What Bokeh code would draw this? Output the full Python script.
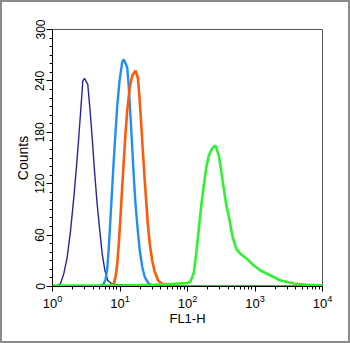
from bokeh.plotting import figure
from bokeh.layouts import column
from bokeh.models import Range1d, FixedTicker
from bokeh.embed import file_html
from bokeh.resources import INLINE

# ---- data (FL1-H value, counts) ----
navy_x = [1.0, 1.15, 1.31, 1.47, 1.65, 1.85, 2.07, 2.24, 2.45, 2.66, 2.81, 2.98,
          3.33, 3.57, 3.87, 4.19, 4.59, 5.02, 5.45, 5.96, 6.59, 7.66, 9.10,
          14.3, 28.3, 56.0, 10000.0]
navy_y = [0, 1, 3, 15, 34, 65, 104, 135, 174, 213, 240, 243,
          236, 209, 174, 135, 96, 65, 38, 19, 7, 3, 2,
          2, 1, 0, 0]

blue_x = [1.0, 4.34, 5.14, 5.70, 6.10, 6.46, 6.82, 7.23, 7.66, 8.09, 8.58, 9.09,
          9.84, 10.78, 11.38, 12.78, 13.49, 14.31, 15.17, 16.01, 16.98, 18.36,
          19.64, 21.32, 23.29, 26.7, 31.7, 56.0, 10000.0]
blue_y = [0, 0, 1, 3, 8, 20, 45, 80, 115, 148, 180, 210,
          240, 262, 265, 256, 233, 198, 163, 128, 96, 65,
          42, 23, 11, 3, 1, 0, 0]

orange_x = [1.0, 6.10, 7.23, 8.09, 8.58, 9.09, 9.60, 10.17, 10.78, 11.38, 12.06,
            12.78, 13.97, 15.17, 16.98, 18.36, 19.45, 20.61, 21.76, 23.06, 24.43,
            25.82, 27.6, 30.0, 32.8, 36.8, 42.2, 50.0, 78.8, 10000.0]
orange_y = [0, 0, 1, 3, 11, 26, 50, 81, 116, 147, 178,
            205, 233, 246, 252, 244, 221, 190, 159, 128, 100,
            73, 50, 30, 17, 7, 3, 1, 0, 0]

green_x = [1.0, 10.0, 31.6, 56.0, 100.0, 110.8, 124.0, 134.5, 147.0, 159.6, 174.3,
           191.0, 207.0, 224.5, 242.7, 260.0, 291.0, 315.7, 345.0, 378.0, 419.0,
           459.0, 527.0, 610.0, 766.0, 959.0, 1206.0, 1698.0, 2387.0, 3758.0,
           5930.0, 9340.0, 10000.0]
green_y = [1, 1, 2, 3, 4, 6, 16, 38, 67, 94, 118,
           140, 153, 159, 163, 164.5, 153, 135, 114, 94, 78,
           60, 44, 38, 32, 24.5, 18.7, 12.8, 7, 3.5,
           2, 1.5, 1]

y_ticks = [0, 60, 120, 180, 240, 300]
y_minor = [v for v in range(0, 301, 10)]

FONT = "Liberation Sans"

p = figure(width=346, height=339, x_axis_type="log",
           x_range=Range1d(1, 10000), y_range=Range1d(0, 300),
           output_backend="svg", toolbar_location=None,
           min_border_left=50, min_border_right=26,
           min_border_top=27, min_border_bottom=55,
           x_axis_label="FL1-H", y_axis_label="Counts")

p.grid.visible = False
p.background_fill_color = "white"
p.border_fill_color = "white"
p.outline_line_color = "#555555"
p.outline_line_width = 1

p.line(navy_x, navy_y, line_color="#2424a8", line_width=1.4)
p.line(blue_x, blue_y, line_color="#1e8ff5", line_width=2.4)
p.line(orange_x, orange_y, line_color="#ff5a0a", line_width=2.6)
p.line(green_x, green_y, line_color="#2ef22e", line_width=2.6)

p.yaxis.ticker = FixedTicker(ticks=y_ticks, minor_ticks=y_minor)
p.yaxis.major_label_orientation = "vertical"

for ax in (p.xaxis[0], p.yaxis[0]):
    ax.axis_line_color = "black"
    ax.axis_line_width = 1
    ax.major_tick_line_color = "black"
    ax.minor_tick_line_color = "black"
    ax.major_tick_in = 0
    ax.minor_tick_in = 0
    ax.major_label_text_font = FONT
    ax.axis_label_text_font = FONT
    ax.axis_label_text_font_style = "normal"
    ax.major_label_text_color = "black"
    ax.axis_label_text_color = "black"

p.xaxis.major_tick_out = 5
p.xaxis.minor_tick_out = 3
p.yaxis.major_tick_out = 6
p.yaxis.minor_tick_out = 3

p.xaxis.major_label_text_font_size = "13px"
p.yaxis.major_label_text_font_size = "12px"
p.xaxis.axis_label_text_font_size = "13px"
p.yaxis.axis_label_text_font_size = "14px"
p.xaxis.major_label_standoff = 3
p.yaxis.major_label_standoff = 2
p.xaxis.axis_label_standoff = 0
p.yaxis.axis_label_standoff = 2

layout = column(p, styles={"border": "2px solid #8a8a8a", "background": "white"})

open("out.html", "w").write(file_html(layout, INLINE))
